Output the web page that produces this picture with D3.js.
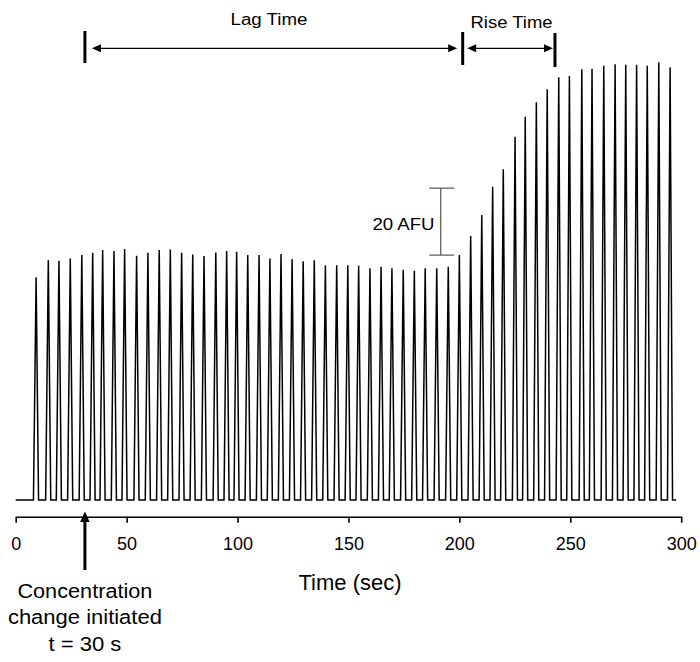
<!DOCTYPE html>
<html>
<head>
<meta charset="utf-8">
<script src="https://cdn.jsdelivr.net/npm/d3@7"></script>
<style>
  html, body { margin: 0; padding: 0; background: #fff; }
  svg { display: block; font-family: Arial, "Liberation Sans", sans-serif; }
</style>
</head>
<body>
<div id="chart"></div>
<script>
// ---- data ----
// time of each fluorescence peak (sec)
const peakTimes = [
  9.2, 14.7, 19.5, 24.6, 29.8, 34.7, 39.2, 44.3, 49.1, 54.5,
  59.6, 64.7, 69.7, 74.8, 79.8, 84.9, 90.2, 95.1, 99.6, 104.6,
  109.7, 114.6, 119.6, 124.6, 129.6, 134.6, 139.6, 144.7, 149.7, 154.6,
  159.7, 164.7, 169.6, 174.7, 179.7, 184.6, 189.8, 195.0, 200.0, 205.1,
  210.1, 215.0, 219.8, 225.1, 229.7, 234.7, 239.6, 244.8, 249.6, 255.2,
  259.8, 265.1, 270.2, 275.0, 279.9, 284.7, 289.9, 295.0
];
// peak height of each pulse (AFU above baseline)
const peakValues = [
  66.5, 71.6, 71.4, 72.1, 73.1, 73.8, 74.6, 74.3, 74.9, 72.9,
  73.8, 74.6, 74.8, 73.8, 73.3, 72.8, 73.9, 74.3, 74.1, 73.1,
  73.1, 72.1, 73.4, 71.9, 71.3, 71.6, 70.1, 70.1, 70.1, 69.9,
  69.2, 69.6, 69.2, 68.7, 68.4, 69.2, 69.2, 69.6, 73.1, 78.8,
  85.1, 93.5, 98.7, 108.4, 114.4, 118.7, 122.6, 126.2, 126.6, 128.6,
  128.7, 129.6, 130.1, 129.9, 129.9, 129.6, 130.7, 129.2
];
const traceStart = 0;      // sec
const traceEnd = 297.7;    // sec
const xTicks = [0, 50, 100, 150, 200, 250, 300];
const xLabel = "Time (sec)";
// annotation times (sec)
const lagStart = 31.2, lagEnd = 201.5, riseEnd = 243.1;
const lagLabel = "Lag Time", riseLabel = "Rise Time";
const scaleBarTime = 191.6, scaleBarLow = 73.1, scaleBarHigh = 93.1;
const scaleBarLabel = "20 AFU";
const initLines = ["Concentration", "change initiated", "t = 30 s"];

// ---- layout ----
const W = 700, H = 662;
const svg = d3.select("#chart").append("svg").attr("width", W).attr("height", H);

const x = d3.scaleLinear().domain([0, 300]).range([15.7, 681.2]);
const y = d3.scaleLinear().domain([0, 140]).range([500, 31]);

// build trace: flat baseline with a spike at each peak
const riseDur = 1.2, fallDur = 1.1;
const pts = [[traceStart, 0]];
peakTimes.forEach((t, i) => {
  pts.push([t - riseDur, 0]);
  pts.push([t, peakValues[i]]);
  pts.push([t + fallDur, 0]);
});
pts.push([traceEnd, 0]);

const line = d3.line().x(d => x(d[0])).y(d => y(d[1]));
svg.append("path")
  .attr("d", line(pts))
  .attr("fill", "none")
  .attr("stroke", "#000")
  .attr("stroke-width", 1.5)
  .attr("stroke-linejoin", "miter")
  .attr("stroke-miterlimit", 3);

// x axis
const axisY = 516.7;
const gx = svg.append("g").attr("transform", `translate(0,${axisY})`)
  .call(d3.axisBottom(x).tickValues(xTicks).tickFormat(d3.format("d"))
    .tickSize(6).tickSizeOuter(0).tickPadding(14.5));
gx.select(".domain").attr("stroke", "#000").attr("stroke-width", 1.6);
gx.selectAll(".tick line").attr("stroke", "#000").attr("stroke-width", 1.6);
gx.selectAll(".tick text").attr("font-size", 18).attr("fill", "#000")
  .attr("font-family", "Arial, 'Liberation Sans', sans-serif");

svg.append("text").attr("x", 350).attr("y", 590)
  .attr("text-anchor", "middle").attr("font-size", 22).attr("fill", "#000")
  .text(xLabel);

// initiation arrow + text
const ax = x(lagStart);
svg.append("line").attr("x1", ax).attr("x2", ax).attr("y1", 570).attr("y2", 519)
  .attr("stroke", "#000").attr("stroke-width", 3);
svg.append("path")
  .attr("d", `M${ax},511.5 L${ax - 4.8},522 L${ax + 4.8},522 Z`)
  .attr("fill", "#000");
const baselines = [598.3, 624, 650.7];
const initWidths = [135, 154, 73];
initLines.forEach((s, i) => {
  svg.append("text").attr("x", ax).attr("y", baselines[i])
    .attr("text-anchor", "middle").attr("font-size", 20).attr("fill", "#000")
    .attr("textLength", initWidths[i]).attr("lengthAdjust", "spacingAndGlyphs")
    .text(s);
});

// top annotations: bars and double arrows
function bar(t, y1, y2) {
  svg.append("line").attr("x1", x(t)).attr("x2", x(t)).attr("y1", y1).attr("y2", y2)
    .attr("stroke", "#000").attr("stroke-width", 3);
}
bar(lagStart, 31, 63);
bar(lagEnd, 32, 65);
bar(riseEnd, 33, 67);

function dblArrow(x1, x2, yy) {
  svg.append("line").attr("x1", x1 + 6).attr("x2", x2 - 6).attr("y1", yy).attr("y2", yy)
    .attr("stroke", "#000").attr("stroke-width", 1.2);
  svg.append("path").attr("d", `M${x1},${yy} L${x1 + 9},${yy - 4} L${x1 + 9},${yy + 4} Z`).attr("fill", "#000");
  svg.append("path").attr("d", `M${x2},${yy} L${x2 - 9},${yy - 4} L${x2 - 9},${yy + 4} Z`).attr("fill", "#000");
}
const arrowY = 48.3;
dblArrow(x(lagStart) + 7, x(lagEnd) - 5.5, arrowY);
dblArrow(x(lagEnd) + 4.5, x(riseEnd) - 2, arrowY);

svg.append("text").attr("x", 269).attr("y", 25).attr("text-anchor", "middle")
  .attr("font-size", 16).attr("textLength", 77).attr("lengthAdjust", "spacingAndGlyphs")
  .attr("fill", "#000").text(lagLabel);
svg.append("text").attr("x", 511.5).attr("y", 28.3).attr("text-anchor", "middle")
  .attr("font-size", 16).attr("textLength", 82).attr("lengthAdjust", "spacingAndGlyphs")
  .attr("fill", "#000").text(riseLabel);

// 20 AFU scale bar
const sbx = x(scaleBarTime);
const sbCol = "#555";
svg.append("line").attr("x1", sbx).attr("x2", sbx)
  .attr("y1", y(scaleBarHigh)).attr("y2", y(scaleBarLow))
  .attr("stroke", sbCol).attr("stroke-width", 1.2);
[scaleBarHigh, scaleBarLow].forEach(v => {
  svg.append("line").attr("x1", sbx - 11.5).attr("x2", sbx + 13.5)
    .attr("y1", y(v)).attr("y2", y(v))
    .attr("stroke", sbCol).attr("stroke-width", 1.2);
});
svg.append("text").attr("x", 434.5).attr("y", 229.5).attr("text-anchor", "end")
  .attr("font-size", 17).attr("textLength", 62).attr("lengthAdjust", "spacingAndGlyphs")
  .attr("fill", "#000").text(scaleBarLabel);
</script>
</body>
</html>
